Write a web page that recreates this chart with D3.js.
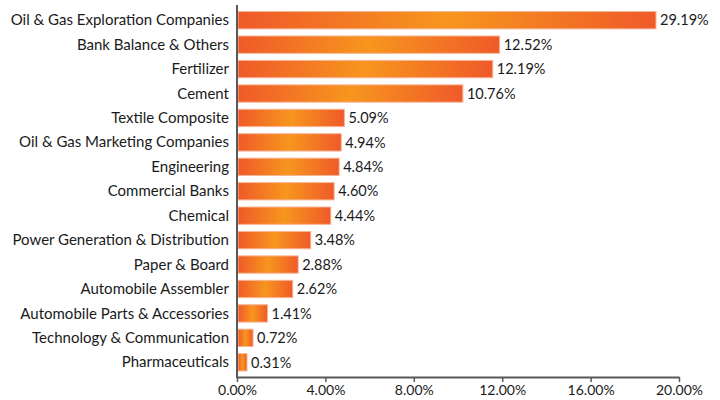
<!DOCTYPE html>
<html>
<head>
<meta charset="utf-8">
<script src="https://cdn.jsdelivr.net/npm/d3@7"></script>
<style>
  body { margin: 0; background: #fff; }
  text { font-family: Lato, "Open Sans", sans-serif; fill: #1a1a1a; }
</style>
</head>
<body>
<div id="chart"></div>
<script>
// sector names, top to bottom
var sectors = [
  "Oil & Gas Exploration Companies",
  "Bank Balance & Others",
  "Fertilizer",
  "Cement",
  "Textile Composite",
  "Oil & Gas Marketing Companies",
  "Engineering",
  "Commercial Banks",
  "Chemical",
  "Power Generation & Distribution",
  "Paper & Board",
  "Automobile Assembler",
  "Automobile Parts & Accessories",
  "Technology & Communication",
  "Pharmaceuticals"
];

// share of portfolio, in percent
var shares = [29.19, 12.52, 12.19, 10.76, 5.09, 4.94, 4.84, 4.60, 4.44, 3.48, 2.88, 2.62, 1.41, 0.72, 0.31];

// axis tick values (percent)
var tickVals = [0, 4, 8, 12, 16, 20];

var svgWidth = 720, svgHeight = 400;
var margin = { top: 8, left: 237 };

var svg = d3.select("#chart").append("svg")
  .attr("width", svgWidth)
  .attr("height", svgHeight);

var chartGroup = svg.append("g")
  .attr("transform", `translate(${margin.left}, 0)`);

//gradient: red-orange at the ends, light orange in the middle
var defs = svg.append("defs");
var grad = defs.append("linearGradient")
  .attr("id", "barGrad")
  .attr("x1", "0%").attr("x2", "100%")
  .attr("y1", "0%").attr("y2", "0%");
grad.append("stop").attr("offset", "0%").attr("stop-color", "#ef5a29");
grad.append("stop").attr("offset", "50%").attr("stop-color", "#f7961e");
grad.append("stop").attr("offset", "100%").attr("stop-color", "#ef5a29");

//bars: the outlier is cut off at the 20% mark, like the original
var x = d3.scaleLinear().domain([0, 20]).range([0, 418]).clamp(true);
//axis labels spread over the full axis line
var xAxisScale = d3.scaleLinear().domain([0, 20]).range([0, 442]);

var y = d3.scaleBand()
  .domain(sectors)
  .range([margin.top, 374.5])
  .paddingInner(0.29)
  .paddingOuter(0.145);

var rows = sectors.map((s, i) => ({ name: s, value: shares[i] }));

chartGroup.selectAll("rect.bar")
  .data(rows)
  .enter()
  .append("rect")
  .attr("class", "bar")
  .attr("x", 1)
  .attr("y", d => y(d.name))
  .attr("width", d => Math.max(x(d.value), 9))
  .attr("height", y.bandwidth())
  .attr("fill", "url(#barGrad)")
  .attr("stroke", "#f7b597")
  .attr("stroke-width", 1);

//value labels
chartGroup.selectAll("text.val")
  .data(rows)
  .enter()
  .append("text")
  .attr("class", "val")
  .attr("x", d => Math.max(x(d.value), 9) + 5)
  .attr("y", d => y(d.name) + y.bandwidth() / 2)
  .attr("dy", "0.36em")
  .style("font-size", "14.5px")
  .text(d => d.value.toFixed(2) + "%");

//category labels
chartGroup.selectAll("text.cat")
  .data(rows)
  .enter()
  .append("text")
  .attr("class", "cat")
  .attr("x", -8)
  .attr("y", d => y(d.name) + y.bandwidth() / 2)
  .attr("dy", "0.34em")
  .attr("text-anchor", "end")
  .style("font-size", "15px")
  .text(d => d.name);

//bottom axis
var bottomAxis = d3.axisBottom(xAxisScale)
  .tickValues(tickVals)
  .tickSize(5)
  .tickSizeOuter(0)
  .tickFormat(d => d.toFixed(2) + "%");

var axisG = chartGroup.append("g")
  .attr("transform", "translate(0, 377)")
  .call(bottomAxis);
axisG.select(".domain").attr("stroke", "#595959").attr("stroke-width", 2);
axisG.selectAll(".tick line").attr("stroke", "#595959").attr("stroke-width", 1.5);
axisG.selectAll(".tick text")
  .attr("y", 8)
  .style("font-size", "14px")
  .style("font-family", "Lato, 'Open Sans', sans-serif")
  .attr("fill", "#1a1a1a");

//left axis line
chartGroup.append("line")
  .attr("x1", 0).attr("x2", 0)
  .attr("y1", 5).attr("y2", 378)
  .attr("stroke", "#595959")
  .attr("stroke-width", 2);
</script>
</body>
</html>
